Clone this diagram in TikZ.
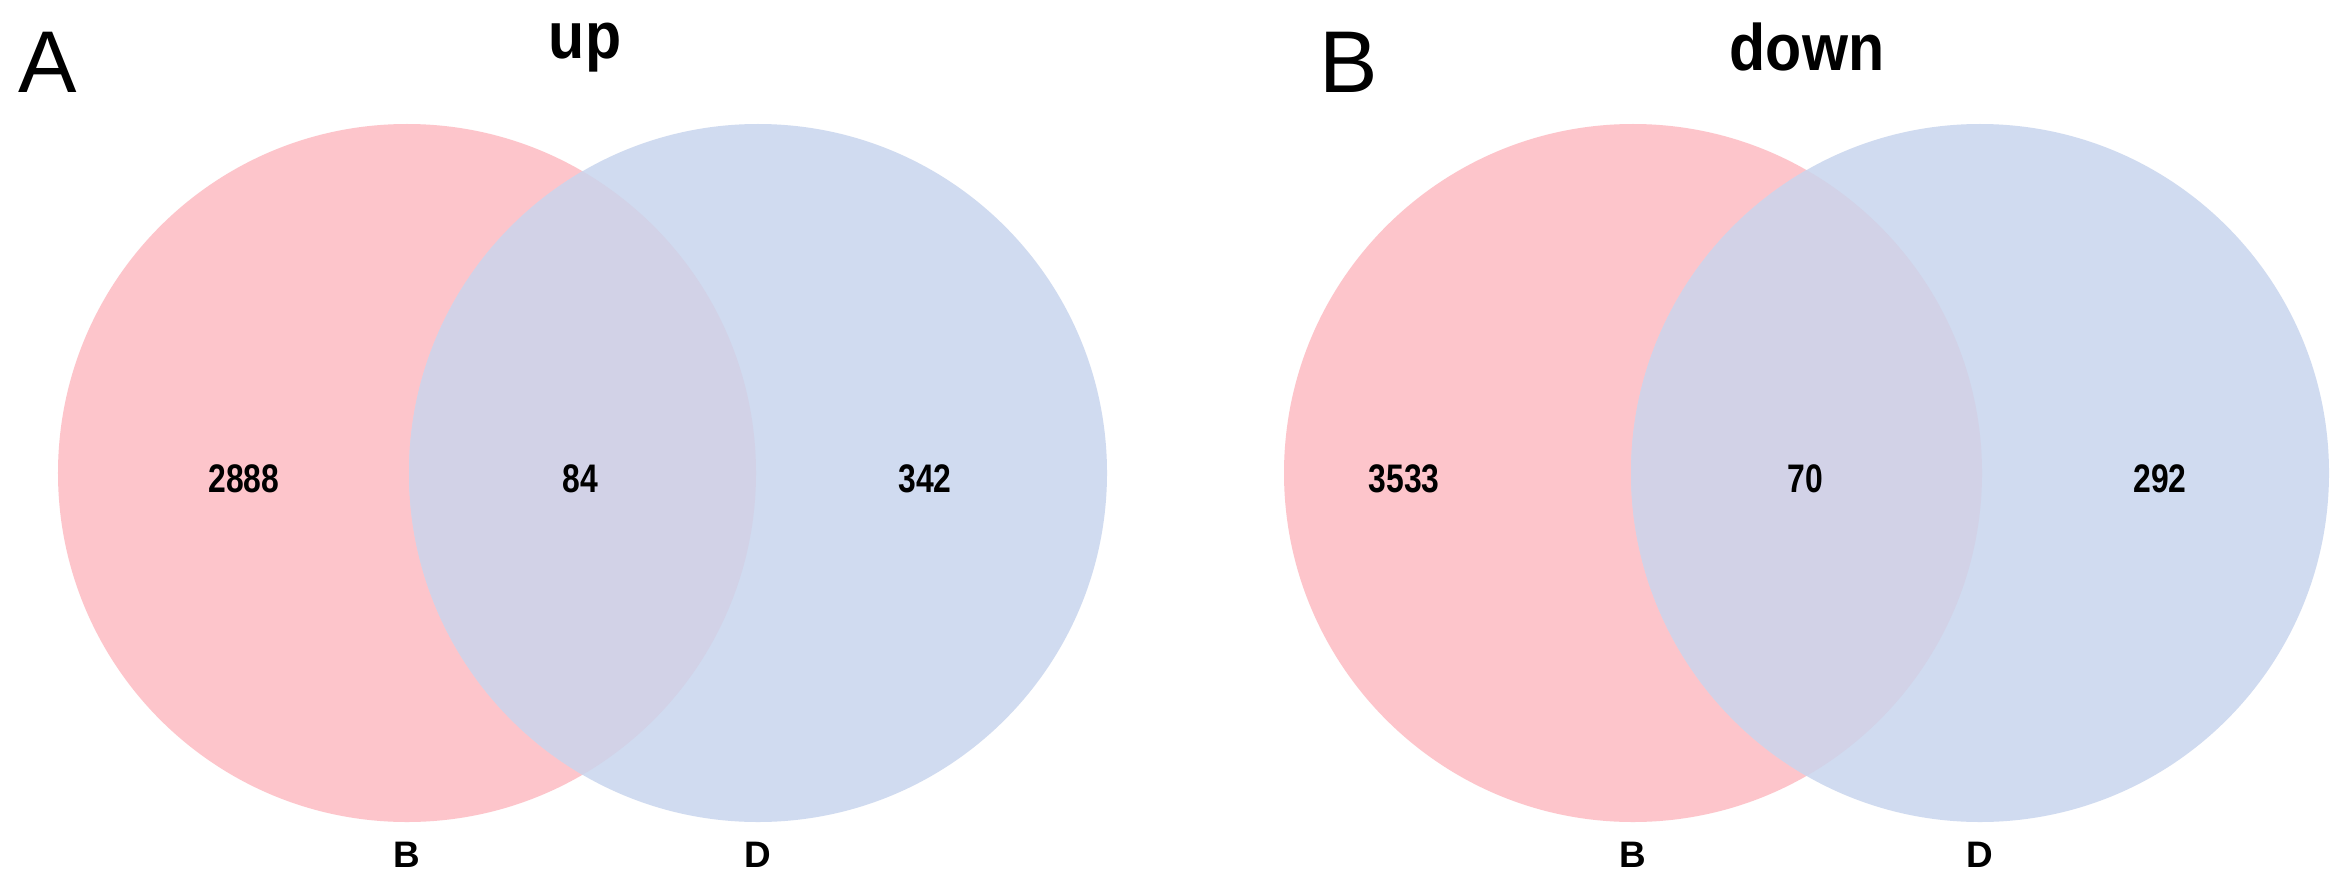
\documentclass[tikz,border=0pt]{standalone}
\usepackage{fontspec}
\setmainfont{Liberation Sans}
\newfontfamily\nfont[FakeStretch=0.8]{Liberation Sans}
\newfontfamily\tfont[FakeStretch=0.9]{Liberation Sans}
\definecolor{vpink}{HTML}{FDC5CB}
\definecolor{vblue}{HTML}{D0DBF0}
\definecolor{vmix}{HTML}{D2D2E7}
\tikzset{
  setA/.style={fill=vpink},
  setB/.style={fill=vblue},
  numlab/.style={font=\nfont\bfseries\fontsize{40}{44}\selectfont, inner sep=0pt},
  setlab/.style={font=\bfseries\fontsize{37}{42}\selectfont, inner sep=0pt},
  ttl/.style={font=\tfont\bfseries\fontsize{66}{76}\selectfont, inner sep=0pt, anchor=base},
  panel/.style={font=\fontsize{88}{96}\selectfont, inner sep=0pt}
}
\begin{document}
\begin{tikzpicture}[x=1bp,y=-1bp]
\useasboundingbox (0,0) rectangle (2346,890);
\fill[white] (0,0) rectangle (2346,890);
% left panel
\coordinate (LA) at (407,473);
\coordinate (LB) at (758,473);
\fill[setA] (LA) circle [radius=349bp];
\fill[setB] (LB) circle [radius=349bp];
\begin{scope}
  \clip (LA) circle [radius=349bp];
  \fill[vmix] (LB) circle [radius=349bp];
\end{scope}
% right panel
\coordinate (RA) at (1633,473);
\coordinate (RB) at (1980,473);
\fill[setA] (RA) circle [radius=349bp];
\fill[setB] (RB) circle [radius=349bp];
\begin{scope}
  \clip (RA) circle [radius=349bp];
  \fill[vmix] (RB) circle [radius=349bp];
\end{scope}
% labels
\node[panel] (pA) at (48,62) {A};
\node[panel] (pB) at (1349,62) {B};
\node[ttl] (tup) at (585,58) {up};
\node[ttl] (tdown) at (1807,70) {down};
\node[numlab] (n1) at (244,479) {2888};
\node[numlab] (n2) at (580,479) {84};
\node[numlab] (n3) at (925,479) {342};
\node[numlab] (n4) at (1404,479) {3533};
\node[numlab] (n5) at (1805,479) {70};
\node[numlab] (n6) at (2160,479) {292};
\node[setlab] (b1) at (407,855) {B};
\node[setlab] (d1) at (758,855) {D};
\node[setlab] (b2) at (1633,855) {B};
\node[setlab] (d2) at (1980,855) {D};
\end{tikzpicture}
\end{document}
